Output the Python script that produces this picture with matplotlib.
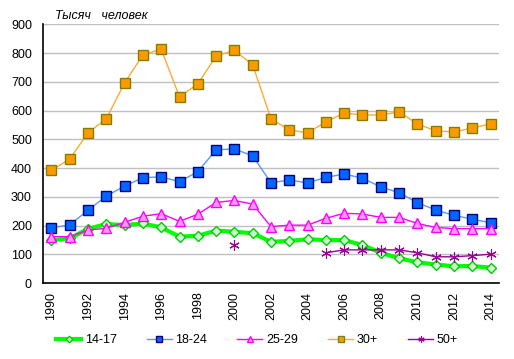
import numpy as np
import matplotlib
matplotlib.use("Agg")
import matplotlib.pyplot as plt

plt.rcParams['font.family'] = ['Liberation Sans', 'DejaVu Sans']

years = list(range(1990, 2015))

# 14-17
g1417 = [150, 156, 189, 206, 202, 208, 194, 162, 165, 183, 179, 174, 144,
         147, 153, 150, 150, 133, 106, 87, 73, 65, 59, 60, 54]
# 18-24
g1824 = [193, 203, 254, 303, 338, 367, 370, 353, 388, 464, 467, 443, 349,
         359, 349, 368, 380, 365, 335, 315, 280, 255, 236, 223, 210]
# 25-29
g2529 = [162, 162, 185, 191, 212, 233, 242, 215, 240, 281, 288, 275, 197,
         202, 202, 226, 243, 241, 229, 229, 208, 194, 190, 190, 190]
# 30+
g30 = [393, 432, 523, 572, 697, 794, 814, 648, 693, 790, 810, 759, 572,
       533, 523, 561, 592, 585, 585, 596, 554, 530, 526, 540, 554]
# 50+ (gaps where no data)
g50 = [None] * 10 + [132] + [None] * 4 + [106, 116, 116, 116, 116, 106,
                                           92, 92, 96, 101]
g50 = [np.nan if v is None else v for v in g50]

labels = ['14-17', '18-24', '25-29', '30+', '50+']

fig = plt.figure(figsize=(5.14, 3.59), dpi=100)
ax = fig.add_axes([0.0837, 0.211, 0.887, 0.721])

ax.plot(years, g1417, color='#00ff00', lw=3, marker='D', ms=5.5,
        mfc='#ccffcc', mec='#00cc00', mew=1, label=labels[0], zorder=3)
ax.plot(years, g1824, color='#5599ff', lw=1, marker='s', ms=6.5,
        mfc='#0066ff', mec='#000080', mew=1, label=labels[1], zorder=3)
ax.plot(years, g2529, color='#ff00ff', lw=1, marker='^', ms=6.5,
        mfc='#ff99ff', mec='#ff00ff', mew=1, label=labels[2], zorder=3)
ax.plot(years, g30, color='#ffaa33', lw=1, marker='s', ms=6.5,
        mfc='#ff9900', mec='#808000', mew=1, label=labels[3], zorder=3)
ax.plot(years, g50, color='#990099', lw=1, marker=(6, 2, 0), ms=7.5,
        mfc='#990099', mec='#990099', mew=0.8, label=labels[4], zorder=3)

ax.set_xlim(1989.54, 2014.46)
ax.set_ylim(0, 900)
ax.set_yticks(range(0, 1000, 100))
ax.set_xticks(range(1990, 2015, 2))
ax.tick_params(axis='both', length=0, labelsize=9)
ax.tick_params(axis='x', labelrotation=90, pad=6)
ax.tick_params(axis='y', pad=8)
ax.yaxis.grid(True, color='#c0c0c0', lw=1)
ax.set_axisbelow(True)
for s in ['top', 'right']:
    ax.spines[s].set_visible(False)
ax.spines['left'].set_linewidth(1.2)
ax.spines['bottom'].set_linewidth(1.2)

fig.text(0.107, 0.948, 'Тысяч   человек', fontsize=9, style='italic')

fig.legend(loc='center', bbox_to_anchor=(0.5, 0.052), ncol=5, frameon=False,
           fontsize=9, markerscale=0.6, handlelength=2.0, handletextpad=0.3,
           columnspacing=2.4)

fig.savefig('out.png', dpi=100)
